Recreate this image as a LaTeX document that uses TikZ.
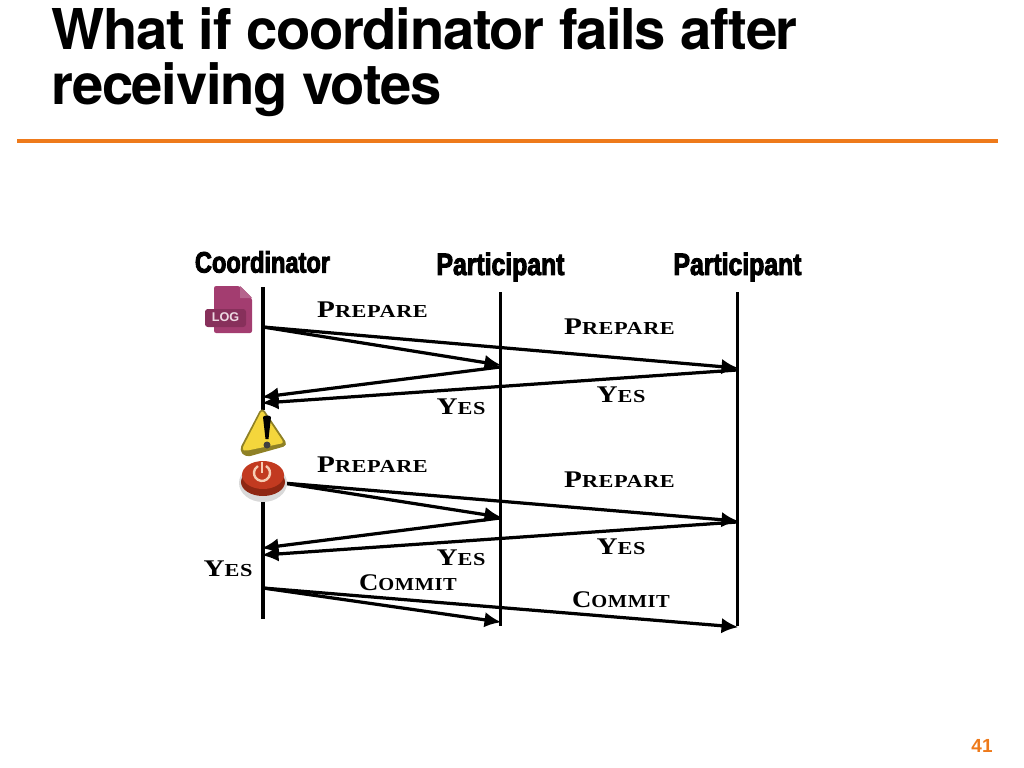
\documentclass[tikz,border=0pt]{standalone}
\usepackage{xcolor}
\usepackage{fontspec}
\usetikzlibrary{arrows.meta}
\setmainfont{Liberation Sans}
\newfontfamily\titlefont[LetterSpace=-2.4]{TeX Gyre Heros}
\newfontfamily\actorfont[FakeStretch=0.8,FakeBold=3]{Liberation Sans Bold}
\newfontfamily\msgfont[FakeStretch=1.22,LetterSpace=3]{Liberation Serif Bold}
\newfontfamily\commitfont[FakeStretch=1.12,LetterSpace=3]{Liberation Serif Bold}
\newcommand{\msgcaps}[2]{{\fontsize{17}{17}\selectfont #1}{\fontsize{13}{13}\selectfont #2}}

\definecolor{rulecolor}{HTML}{EE7A1B}
\definecolor{logcolor}{HTML}{A33D70}
\definecolor{logdark}{HTML}{87305B}
\definecolor{warnyellow}{HTML}{F4D63C}
\definecolor{warnedge}{HTML}{8F8126}
\definecolor{buttonred}{HTML}{C23A20}
\definecolor{buttondark}{HTML}{8E2713}
\definecolor{buttonmark}{HTML}{F6CDB4}

\tikzset{
  lifeline/.style={line width=2.3pt,black},
  msgarrow/.style={line width=2.3pt,black,-{Latex[length=12pt,width=11pt]},shorten >=-1pt},
  msg/.style={font=\msgfont,inner sep=0pt,text=black},
  commitmsg/.style={font=\commitfont,inner sep=0pt,text=black},
  actor/.style={font=\actorfont\fontsize{22}{22}\selectfont,inner sep=0pt},
  slidetitle/.style={font=\titlefont\bfseries\fontsize{40}{42}\selectfont,anchor=base west,inner sep=0pt},
}

\begin{document}
\begin{tikzpicture}[x=0.025cm,y=-0.025cm]
  \useasboundingbox (0,0) rectangle (1024,768);

  \node[slidetitle] (titleA) at (51,50) {What if coordinator fails after};
  \node[slidetitle] (titleB) at (51,104.5) {receiving votes};
  \coordinate (ruleL) at (17,141);
  \coordinate (ruleR) at (998,141);
  \draw[line width=2.4pt,rulecolor] (ruleL) -- (ruleR);
  \node[font=\bfseries\fontsize{13.5}{14}\selectfont,text=rulecolor,inner sep=0pt] (pageNum) at (982,746) {41};

  \node[actor,font=\actorfont\fontsize{21}{21}\selectfont] (coord) at (262.5,262) {Coordinator};
  \node[actor] (partA) at (500.5,267) {Participant};
  \node[actor] (partB) at (737.5,267) {Participant};

  \coordinate (coordTop) at (263,287);
  \coordinate (coordMidA) at (263,410);
  \coordinate (coordMidB) at (263,500);
  \coordinate (coordBot) at (263,619);
  \coordinate (partATop) at (500.5,292);
  \coordinate (partABot) at (500.5,626);
  \coordinate (partBTop) at (737.5,292);
  \coordinate (partBBot) at (737.5,626);
  \draw[lifeline] (coordTop) -- (coordMidA);
  \draw[lifeline] (coordMidB) -- (coordBot);
  \draw[lifeline] (partATop) -- (partABot);
  \draw[lifeline] (partBTop) -- (partBBot);

  % first round
  \coordinate (prepStart) at (263,327);
  \coordinate (prepA) at (500,365);
  \coordinate (prepB) at (737,368);
  \coordinate (yesFromA) at (500,367);
  \coordinate (yesFromB) at (737,370);
  \coordinate (yesToA) at (263,397);
  \coordinate (yesToB) at (263,403);
  \draw[msgarrow] (prepStart) -- (prepA);
  \draw[msgarrow] (prepStart) -- (prepB);
  \draw[msgarrow] (yesFromA) -- (yesToA);
  \draw[msgarrow] (yesFromB) -- (yesToB);

  % second round
  \coordinate (reStart) at (283,483);
  \coordinate (reA) at (500,517);
  \coordinate (reB) at (737,521);
  \coordinate (reYesFromA) at (500,518);
  \coordinate (reYesFromB) at (737,522);
  \coordinate (reYesToA) at (263,548);
  \coordinate (reYesToB) at (263,555);
  \draw[msgarrow] (reStart) -- (reA);
  \draw[msgarrow] (reStart) -- (reB);
  \draw[msgarrow] (reYesFromA) -- (reYesToA);
  \draw[msgarrow] (reYesFromB) -- (reYesToB);

  % commit
  \coordinate (commitStart) at (263,588);
  \coordinate (commitA) at (500,622);
  \coordinate (commitB) at (737,627);
  \draw[msgarrow] (commitStart) -- (commitA);
  \draw[msgarrow] (commitStart) -- (commitB);

  \node[msg] (lblPrepA) at (372.5,310) {\msgcaps{P}{REPARE}};
  \node[msg] (lblPrepB) at (619.5,327) {\msgcaps{P}{REPARE}};
  \node[msg] (lblYesA) at (461,407) {\msgcaps{Y}{ES}};
  \node[msg] (lblYesB) at (621,395) {\msgcaps{Y}{ES}};
  \node[msg] (lblRePrepA) at (372.5,465) {\msgcaps{P}{REPARE}};
  \node[msg] (lblRePrepB) at (619.5,480) {\msgcaps{P}{REPARE}};
  \node[msg] (lblReYesA) at (461,558) {\msgcaps{Y}{ES}};
  \node[msg] (lblReYesB) at (621,547) {\msgcaps{Y}{ES}};
  \node[msg] (lblYesC) at (228,569) {\msgcaps{Y}{ES}};
  \node[commitmsg] (lblCommitA) at (408,583) {\msgcaps{C}{OMMIT}};
  \node[commitmsg] (lblCommitB) at (621,600) {\msgcaps{C}{OMMIT}};

  % log icon
  \fill[logcolor,rounded corners=1.5pt] (214,286) -- (240,286) -- (252,298) -- (252,333) -- (214,333) -- cycle;
  \fill[logcolor!80!white] (240,286) -- (240,298) -- (252,298) -- cycle;
  \fill[logdark,rounded corners=2pt] (205,309) rectangle (246,327);
  \node[font=\bfseries\fontsize{9}{9}\selectfont,text=white!80!logcolor,inner sep=0pt] (logText) at (225.5,317.5) {LOG};

  % warning sign
  \draw[line width=1pt,draw=warnedge,fill=warnedge,line join=round,rounded corners=3pt]
    (262,408) -- (287,445) -- (246,456.5) -- (240,450) -- cycle;
  \fill[warnyellow,rounded corners=2pt] (262,410) -- (284,443) -- (245,451) -- (242,449) -- cycle;
  \fill[black] (263,417) .. controls (264,415) and (270,415) .. (271,417) -- (268.5,439) -- (265.5,439) -- cycle;
  \fill[black!75] (267,445) circle (3.5);

  % power button
  \fill[black!15] (263,483) ellipse (24 and 19);
  \fill[buttondark] (263,482) ellipse (22 and 14);
  \fill[buttonred] (263,475) ellipse (21 and 14);
  \draw[buttonmark,line width=1.7pt] (266,466) arc (-60:240:8);
  \draw[buttonmark,line width=1.7pt] (262,462) -- (262,473);
\end{tikzpicture}
\end{document}
